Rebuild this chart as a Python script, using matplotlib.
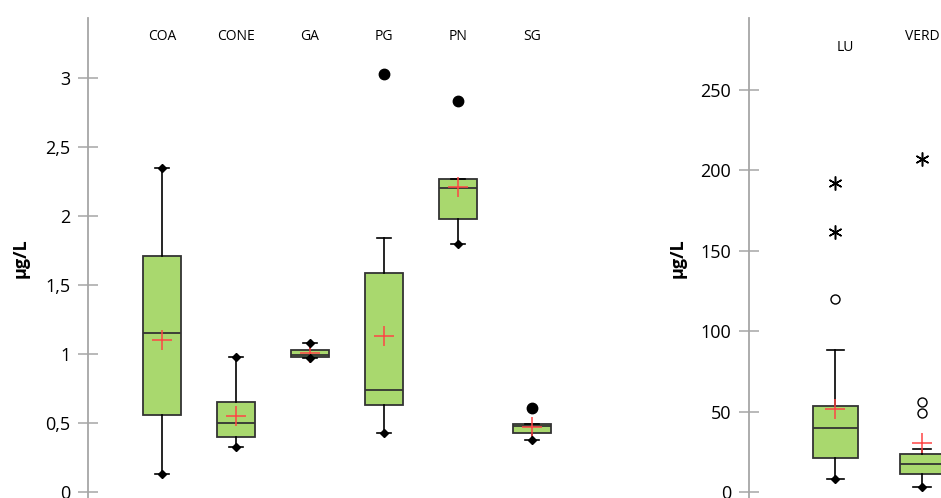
import numpy as np
import matplotlib
matplotlib.use("Agg")
import matplotlib.pyplot as plt
import matplotlib.transforms as mtransforms

plt.rcParams["font.family"] = ["Open Sans", "DejaVu Sans"]

# left panel: concentrations in µg/L per site
left_cats = ["COA", "CONE", "GA", "PG", "PN", "SG"]
left_q1 = [0.56, 0.40, 0.98, 0.63, 1.98, 0.43]
left_med = [1.15, 0.50, 0.99, 0.74, 2.20, 0.48]
left_q3 = [1.71, 0.65, 1.03, 1.59, 2.27, 0.49]
left_mean = [1.10, 0.55, 1.01, 1.13, 2.21, 0.47]
left_lo = [0.13, 0.33, 0.97, 0.43, 1.80, 0.38]
left_hi = [2.35, 0.98, 1.08, 1.84, 2.27, 0.49]
left_out = [[], [], [], [3.03], [2.83], [0.61]]
left_ticks = [0, 0.5, 1, 1.5, 2, 2.5, 3]
left_ticklabels = ["0", "0,5", "1", "1,5", "2", "2,5", "3"]

# right panel
right_cats = ["LU", "VERD"]
right_q1 = [21.3, 11.4]
right_med = [39.7, 17.8]
right_q3 = [53.8, 23.8]
right_mean = [51.7, 30.4]
right_lo = [8.4, 3.5]
right_hi = [88.2, 26.7]
right_out = [[120.0], [49.5, 55.9]]
right_extreme = [[162.0, 192.0], [207.0]]
right_ticks = [0, 50, 100, 150, 200, 250]
right_ticklabels = ["0", "50", "100", "150", "200", "250"]

GREEN = "#A9D86E"
EDGE = "#333333"
MEAN = "#FF4545"
AXIS = "#A6A6A6"

W, H = 941, 498
fig = plt.figure(figsize=(W / 100, H / 100), dpi=100)


def draw_panel(ax, cats, q1, med, q3, mean, lo, hi, out, extreme=None):
    pos = np.arange(1, len(cats) + 1)
    stats = []
    for i in range(len(cats)):
        stats.append(dict(q1=q1[i], med=med[i], q3=q3[i], mean=mean[i],
                          whislo=lo[i], whishi=hi[i], fliers=[]))
    ax.bxp(stats, positions=pos, widths=0.51, capwidths=0.2,
           patch_artist=True, showmeans=True, showfliers=False,
           boxprops=dict(facecolor=GREEN, edgecolor=EDGE, linewidth=1.3),
           medianprops=dict(color=EDGE, linewidth=1.3),
           whiskerprops=dict(color="black", linewidth=1.2),
           capprops=dict(color="black", linewidth=1.2),
           meanprops=dict(marker="+", markeredgecolor=MEAN, markersize=14,
                          markeredgewidth=1.1))
    for i, p in enumerate(pos):
        # min / max diamonds, except where a point lies beyond the whisker
        ax.plot(p, lo[i], marker="D", color="black", markersize=4.5, zorder=4)
        above = [v for v in out[i] if v > hi[i]]
        if extreme is not None:
            above += [v for v in extreme[i] if v > hi[i]]
        if not above:
            ax.plot(p, hi[i], marker="D", color="black", markersize=4.5, zorder=4)
    return pos


# ----- left axes -----
axL = fig.add_axes([88 / W, 0, 518 / W, 480 / H])
posL = draw_panel(axL, left_cats, left_q1, left_med, left_q3, left_mean,
                  left_lo, left_hi, left_out)
for p, vals in zip(posL, left_out):
    if vals:
        axL.plot([p] * len(vals), vals, "o", color="black", markersize=7.5)
axL.set_xlim(0, 7)
axL.set_ylim(-0.043, 3.435)
axL.set_yticks(left_ticks, left_ticklabels)
trL = mtransforms.blended_transform_factory(axL.transData, axL.transAxes)
for p, c in zip(posL, left_cats):
    axL.text(p, 0.9625, c, transform=trL, ha="center", va="center", fontsize=10)
axL.set_ylabel("µg/L", fontsize=13, fontweight="bold")
axL.yaxis.set_label_coords(-0.112, 0.5)

# ----- right axes -----
axR = fig.add_axes([748.7 / W, 0, (W - 748.7) / W, 480 / H])
posR = draw_panel(axR, right_cats, right_q1, right_med, right_q3, right_mean,
                  right_lo, right_hi, right_out, right_extreme)
for p, vals in zip(posR, right_out):
    axR.plot([p] * len(vals), vals, "o", markerfacecolor="white",
             markeredgecolor="black", markersize=6.5, markeredgewidth=1.0)
for p, vals in zip(posR, right_extreme):
    axR.plot([p] * len(vals), vals, marker=(6, 2, 0), linestyle="none",
             color="black", markersize=10, markeredgewidth=1.1)
axR.set_xlim(0, 2.218)
axR.set_ylim(-3.5, 294.6)
axR.set_yticks(right_ticks, right_ticklabels)
trR = mtransforms.blended_transform_factory(axR.transData, axR.transAxes)
axR.text(1.12, 0.938, "LU", transform=trR, ha="center", va="center", fontsize=10)
axR.text(2.0, 0.961, "VERD", transform=trR, ha="center", va="center", fontsize=10)
axR.set_ylabel("µg/L", fontsize=13, fontweight="bold")
axR.yaxis.set_label_coords(-0.321, 0.5)

for ax in (axL, axR):
    for side in ("top", "right", "bottom"):
        ax.spines[side].set_visible(False)
    ax.spines["left"].set_color(AXIS)
    ax.spines["left"].set_linewidth(1.3)
    ax.set_xticks([])
    ax.tick_params(axis="y", direction="inout", length=15, width=1.1,
                   color=AXIS, labelsize=13, pad=5, labelcolor="black")
    ax.patch.set_alpha(0)

fig.savefig("out.png", dpi=100)
